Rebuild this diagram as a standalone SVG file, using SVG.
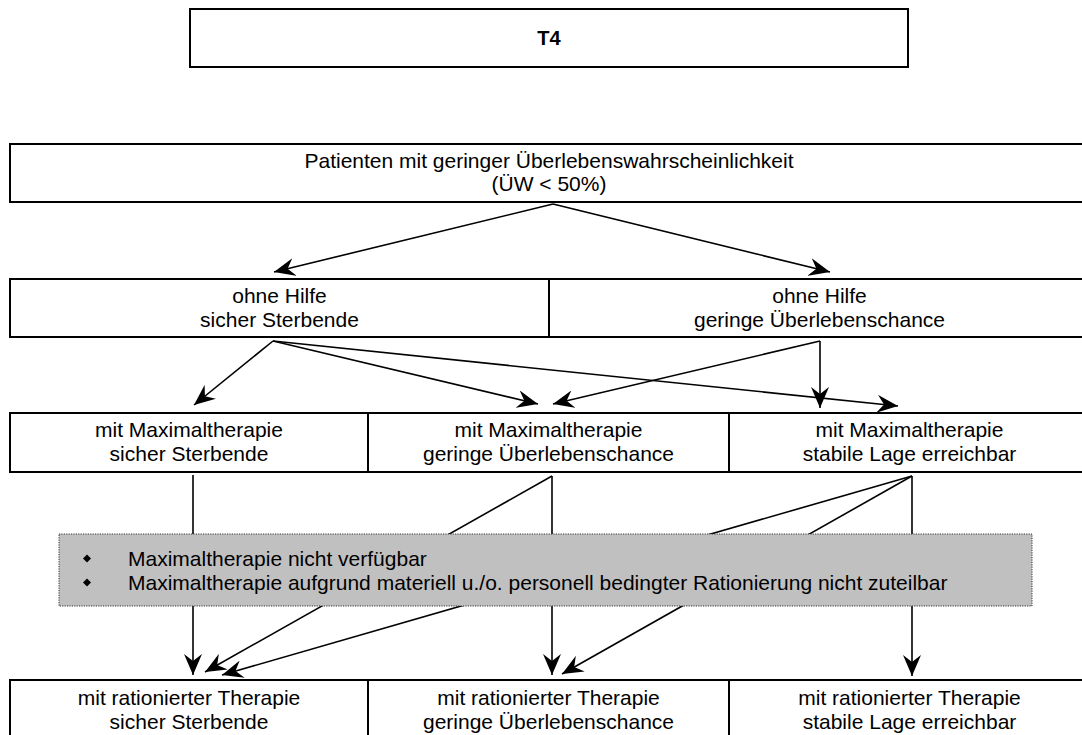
<svg xmlns="http://www.w3.org/2000/svg" width="1082" height="735" viewBox="0 0 1082 735">
<style>
.box{fill:#fff;stroke:#000;stroke-width:2}
.t{font-family:"Liberation Sans",Arial,sans-serif;font-size:21px;fill:#000;text-anchor:middle}
.tl{font-family:"Liberation Sans",Arial,sans-serif;font-size:21px;fill:#000}
.c{fill:none;stroke:#000;stroke-width:1.6;marker-end:url(#ah)}
</style>
<defs>
<marker id="ah" viewBox="0 0 21 18" refX="21" refY="9" markerWidth="21" markerHeight="18" markerUnits="userSpaceOnUse" orient="auto">
<path d="M21,9 L0,0 L7,9 L0,18 Z" fill="#000"/>
</marker>
</defs>
<rect width="1082" height="735" fill="#fff"/>
<g id="n-t4">
<rect class="box" x="190" y="9" width="718" height="58"/>
<text class="t" x="549" y="45" style="font-weight:bold;font-size:20px">T4</text>
</g>
<g id="n-main">
<rect class="box" x="10" y="144" width="1080" height="58"/>
<text class="t" x="549" y="168">Patienten mit geringer Überlebenswahrscheinlichkeit</text>
<text class="t" x="549" y="191">(ÜW &lt; 50%)</text>
</g>
<g id="n-l2a">
<rect class="box" x="10" y="279" width="539" height="58"/>
<text class="t" x="279.5" y="303">ohne Hilfe</text>
<text class="t" x="279.5" y="327">sicher Sterbende</text>
</g>
<g id="n-l2b">
<rect class="box" x="549" y="279" width="541" height="58"/>
<text class="t" x="819.5" y="303">ohne Hilfe</text>
<text class="t" x="819.5" y="327">geringe Überlebenschance</text>
</g>
<g id="n-l3a">
<rect class="box" x="10" y="413" width="358" height="59"/>
<text class="t" x="189" y="437">mit Maximaltherapie</text>
<text class="t" x="189" y="461">sicher Sterbende</text>
</g>
<g id="n-l3b">
<rect class="box" x="368" y="413" width="361" height="59"/>
<text class="t" x="548.5" y="437">mit Maximaltherapie</text>
<text class="t" x="548.5" y="461">geringe Überlebenschance</text>
</g>
<g id="n-l3c">
<rect class="box" x="729" y="413" width="361" height="59"/>
<text class="t" x="909.5" y="437">mit Maximaltherapie</text>
<text class="t" x="909.5" y="461">stabile Lage erreichbar</text>
</g>
<g id="n-l4a">
<rect class="box" x="10" y="680" width="358" height="60"/>
<text class="t" x="189" y="705">mit rationierter Therapie</text>
<text class="t" x="189" y="729">sicher Sterbende</text>
</g>
<g id="n-l4b">
<rect class="box" x="368" y="680" width="361" height="60"/>
<text class="t" x="548.5" y="705">mit rationierter Therapie</text>
<text class="t" x="548.5" y="729">geringe Überlebenschance</text>
</g>
<g id="n-l4c">
<rect class="box" x="729" y="680" width="361" height="60"/>
<text class="t" x="909.5" y="705">mit rationierter Therapie</text>
<text class="t" x="909.5" y="729">stabile Lage erreichbar</text>
</g>
<g id="connectors">
<path class="c" d="M553,204 L274,272"/>
<path class="c" d="M553,204 L830,272"/>
<path class="c" d="M273,341 L194,405"/>
<path class="c" d="M273,341 L538,404"/>
<path class="c" d="M273,341 L898,406"/>
<path class="c" d="M820,341 L553,404"/>
<path class="c" d="M820,341 L820,408"/>
<path class="c" d="M193,475 L193,675"/>
<path class="c" d="M552,476 L205,672"/>
<path class="c" d="M552,476 L552,675"/>
<path class="c" d="M912,476 L222,675"/>
<path class="c" d="M912,476 L562,674"/>
<path class="c" d="M912,476 L912,676"/>
</g>
<g id="n-note">
<rect x="59" y="534" width="973" height="72" fill="#c0c0c0" stroke="#333" stroke-width="1" stroke-dasharray="1.2,1.2"/>
<path d="M87,554.5 L91,558.5 L87,562.5 L83,558.5 Z" fill="#000"/>
<path d="M87,578.5 L91,582.5 L87,586.5 L83,582.5 Z" fill="#000"/>
<text class="tl" x="128" y="566">Maximaltherapie nicht verfügbar</text>
<text class="tl" x="128" y="590">Maximaltherapie aufgrund materiell u./o. personell bedingter Rationierung nicht zuteilbar</text>
</g>
</svg>
